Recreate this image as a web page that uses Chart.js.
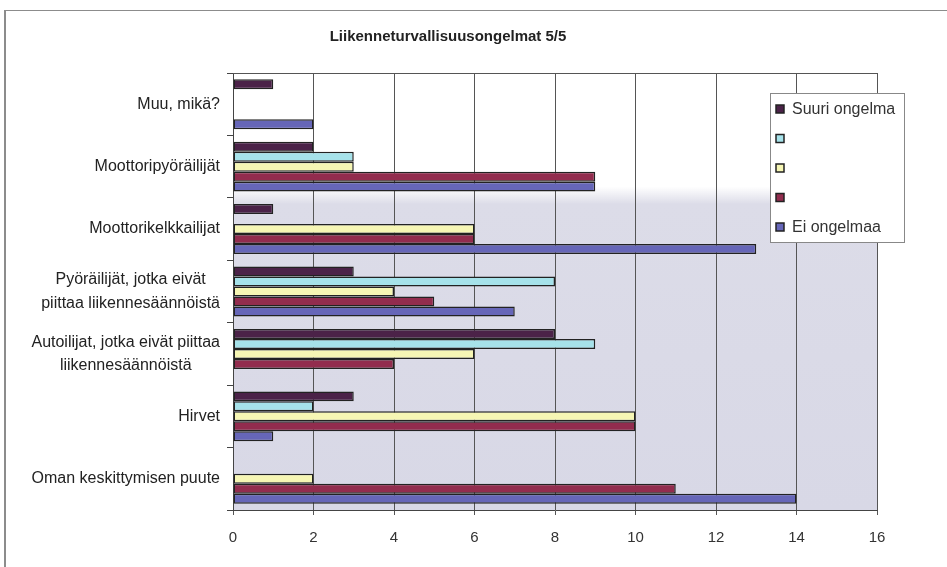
<!DOCTYPE html>
<html>
<head>
<meta charset="utf-8">
<script src="https://cdn.jsdelivr.net/npm/chart.js@4.4.1/dist/chart.umd.min.js"></script>
<style>
  html, body { margin: 0; padding: 0; background: #fff; }
  body { width: 947px; height: 567px; overflow: hidden; position: relative; }
  #frame { position: absolute; left: 4px; top: 10px; width: 1000px; height: 600px;
           border-top: 1px solid #8c8c8c; border-left: 2px solid #8c8c8c; }
  #wrap { position: absolute; left: 0; top: 0; width: 947px; height: 567px; }
</style>
</head>
<body>
<div id="frame"></div>
<div id="wrap"><canvas id="myChart"></canvas></div>
<script>
const FONT = '"Liberation Sans", Arial, Helvetica, sans-serif';

const categories = [
    'Muu, mikä?',
    'Moottoripyöräilijät',
    'Moottorikelkkailijat',
    ['Pyöräilijät, jotka eivät', 'piittaa liikennesäännöistä'],
    ['Autoilijat, jotka eivät piittaa', 'liikennesäännöistä'],
    'Hirvet',
    'Oman keskittymisen puute'
];
const seriesLabels = ['Suuri ongelma', '', '', '', 'Ei ongelmaa'];
const suuriOngelma = [1, 2, 1, 3, 8, 3, 0];
const sarja2 = [0, 3, 0, 8, 9, 2, 0];
const sarja3 = [0, 3, 6, 4, 6, 10, 2];
const sarja4 = [0, 9, 6, 5, 4, 10, 11];
const eiOngelmaa = [2, 9, 13, 7, 0, 1, 14];
const xTicks = [0, 2, 4, 6, 8, 10, 12, 14, 16];
const colors = ['#4b2248', '#a6e2ea', '#f6f6b4', '#922c4e', '#6666b8'];

const seriesValues = [suuriOngelma, sarja2, sarja3, sarja4, eiOngelmaa];

// plot area background (scan is white at the top, greyish lower down)
const plotBackground = {
    id: 'plotBackground',
    beforeDraw(chart) {
        const { ctx, chartArea: a } = chart;
        const g = ctx.createLinearGradient(0, a.top, 0, a.bottom);
        g.addColorStop(0, '#ffffff');
        g.addColorStop(0.26, '#ffffff');
        g.addColorStop(0.30, '#dcdce8');
        g.addColorStop(1, '#d8d8e6');
        ctx.save();
        ctx.fillStyle = g;
        ctx.fillRect(a.left, a.top, a.right - a.left, a.bottom - a.top);
        ctx.restore();
    }
};

// category labels: right-aligned blocks, multi-line lines centred in the block
const categoryLabels = {
    id: 'categoryLabels',
    afterDraw(chart) {
        const { ctx } = chart;
        const y = chart.scales.y;
        const right = chart.chartArea.left - 13;
        const lineH = 23.5;
        ctx.save();
        ctx.font = '16px ' + FONT;
        ctx.fillStyle = '#222';
        ctx.textAlign = 'center';
        ctx.textBaseline = 'middle';
        categories.forEach((lab, i) => {
            const lines = Array.isArray(lab) ? lab : [lab];
            const w = Math.max(...lines.map(l => ctx.measureText(l).width));
            const cx = right - w / 2;
            const y0 = y.getPixelForValue(i) - (lines.length - 1) * lineH / 2;
            lines.forEach((l, k) => ctx.fillText(l, cx, y0 + k * lineH));
        });
        ctx.restore();
    }
};

// plot border + legend box inside the plot
const plotExtras = {
    id: 'plotExtras',
    afterDraw(chart) {
        const { ctx, chartArea: a } = chart;
        ctx.save();
        ctx.strokeStyle = '#555';
        ctx.lineWidth = 1;
        ctx.beginPath();
        ctx.moveTo(a.left, a.top + 0.5);
        ctx.lineTo(a.right, a.top + 0.5);
        ctx.stroke();

        const bx = 770, by = 93, bw = 134, bh = 149;
        ctx.fillStyle = '#fff';
        ctx.fillRect(bx, by, bw, bh);
        ctx.strokeStyle = '#888';
        ctx.strokeRect(bx + 0.5, by + 0.5, bw, bh);

        ctx.font = '16px ' + FONT;
        ctx.textAlign = 'left';
        ctx.textBaseline = 'middle';
        chart.data.datasets.forEach((ds, i) => {
            const cy = 109 + i * 29.5;
            ctx.fillStyle = ds.backgroundColor;
            ctx.fillRect(776, cy - 4, 8, 8);
            ctx.strokeStyle = '#222';
            ctx.lineWidth = 1.5;
            ctx.strokeRect(776, cy - 4, 8, 8);
            ctx.fillStyle = '#333';
            ctx.fillText(ds.label, 792, cy + 1);
        });
        ctx.restore();
    }
};

const ctx = document.getElementById('myChart').getContext('2d');

const myChart = new Chart(ctx, {
    type: 'bar',
    data: {
        labels: categories,
        datasets: seriesValues.map((vals, i) => ({
            label: seriesLabels[i],
            data: vals,
            backgroundColor: colors[i],
            borderColor: '#222',
            borderWidth: c => (c.raw === 0 ? 0 : 1.5),
            borderSkipped: false,
            categoryPercentage: 0.8,
            barPercentage: 1.0
        }))
    },
    options: {
        indexAxis: 'y',
        responsive: true,
        maintainAspectRatio: false,
        animation: false,
        layout: { padding: { left: 19, right: 70, top: 0, bottom: 6 } },
        plugins: {
            legend: { display: false },
            tooltip: { enabled: false },
            title: {
                display: true,
                text: 'Liikenneturvallisuusongelmat 5/5',
                color: '#222',
                font: { family: FONT, size: 15, weight: 'bold' },
                padding: { top: 28, bottom: 27 }
            }
        },
        scales: {
            x: {
                min: 0,
                max: 16,
                afterBuildTicks: s => { s.ticks = xTicks.map(v => ({ value: v })); },
                grid: { color: '#555', lineWidth: 1, tickLength: 5 },
                border: { color: '#444', width: 1 },
                ticks: { color: '#333', padding: 14, font: { family: FONT, size: 15 } }
            },
            y: {
                grid: { drawOnChartArea: false, offset: true, tickLength: 6, color: '#444' },
                border: { color: '#444', width: 1 },
                ticks: { display: false },
                afterFit: s => { s.width = 214; }
            }
        }
    },
    plugins: [plotBackground, categoryLabels, plotExtras]
});
</script>
</body>
</html>
